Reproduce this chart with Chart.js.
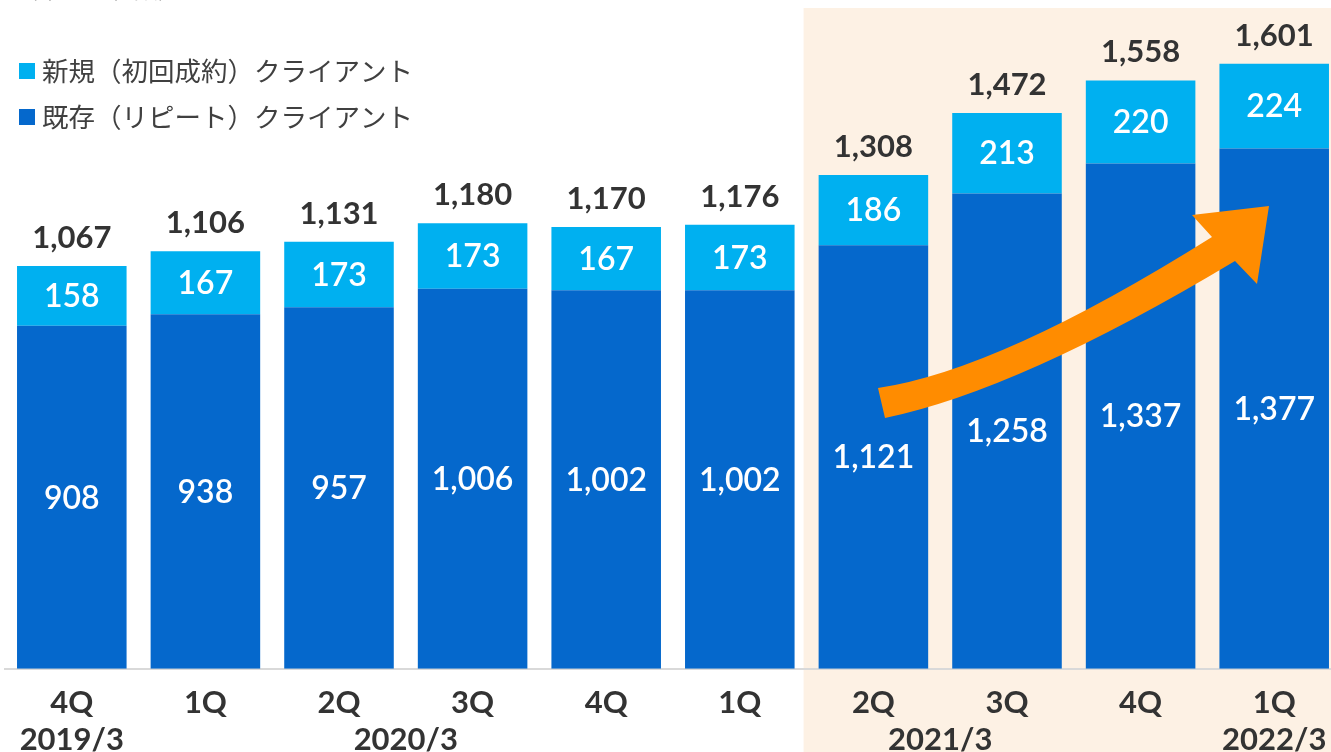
<!DOCTYPE html>
<html lang="ja">
<head>
<meta charset="utf-8">
<title>クライアント数推移</title>
<script src="https://cdn.jsdelivr.net/npm/chart.js@4.4.1/dist/chart.umd.min.js"></script>
<style>
  html, body { margin: 0; padding: 0; background: #fff; overflow: hidden; }
  #wrap { position: relative; width: 1342px; height: 752px; }
</style>
</head>
<body>
<div id="wrap"><canvas id="clientChart"></canvas></div>
<script>
// 四半期ラベルと決算期
const quarters = ['4Q', '1Q', '2Q', '3Q', '4Q', '1Q', '2Q', '3Q', '4Q', '1Q'];
const fiscalYears = ['2019/3', '2020/3', '2020/3', '2020/3', '2020/3', '2021/3', '2021/3', '2021/3', '2021/3', '2022/3'];

// クライアント数（社）
const repeatClients = [908, 938, 957, 1006, 1002, 1002, 1121, 1258, 1337, 1377];
const newClients = [158, 167, 173, 173, 167, 173, 186, 213, 220, 224];
const totalClients = [1067, 1106, 1131, 1180, 1170, 1176, 1308, 1472, 1558, 1601];

// 網掛けを始める四半期（2Q 2021/3 以降）
const highlightFrom = 6;

const COLOR_NEW = '#00B0F0';
const COLOR_REPEAT = '#0568CC';
const COLOR_TEXT = '#333333';
const NUM_FONT = 'Lato, "Noto Sans", sans-serif';
const JP_FONT = '"Noto Sans CJK JP", "Noto Sans", sans-serif';

// 背景・網掛け
const backdrop = {
    id: 'backdrop',
    beforeDraw(chart) {
        const { ctx, width, height } = chart;
        const x = chart.scales.x;
        ctx.save();
        ctx.fillStyle = '#ffffff';
        ctx.fillRect(0, 0, width, height);
        const left = (x.getPixelForValue(highlightFrom - 1) + x.getPixelForValue(highlightFrom)) / 2 - 3;
        ctx.fillStyle = '#FDF1E4';
        ctx.fillRect(left, 8, width - left, height - 8);
        ctx.restore();
    }
};

// 右肩上がりの矢印
const growthArrow = {
    id: 'growthArrow',
    afterDatasetsDraw(chart) {
        const ctx = chart.ctx;
        ctx.save();
        ctx.fillStyle = '#FF8C00';
        ctx.beginPath();
        ctx.moveTo(878, 388);
        ctx.quadraticCurveTo(1000, 370, 1212, 237);
        ctx.lineTo(1192, 215);
        ctx.lineTo(1269, 206);
        ctx.lineTo(1257, 284);
        ctx.lineTo(1235, 261);
        ctx.quadraticCurveTo(1020, 390, 885, 418);
        ctx.closePath();
        ctx.fill();
        ctx.restore();
    }
};

// 値ラベル、決算期ラベル、凡例
const annotations = {
    id: 'annotations',
    afterDraw(chart) {
        const ctx = chart.ctx;
        const x = chart.scales.x;
        ctx.save();
        ctx.textAlign = 'center';
        ctx.textBaseline = 'middle';

        // 各積み上げの中に内訳
        ctx.font = `600 32px ${NUM_FONT}`;
        ctx.fillStyle = '#ffffff';
        chart.data.datasets.forEach((ds, di) => {
            chart.getDatasetMeta(di).data.forEach((bar, i) => {
                const mid = (bar.y + bar.base) / 2;
                ctx.fillText(ds.data[i].toLocaleString('en-US'), bar.x, mid + 1);
            });
        });

        // 合計を積み上げの上に
        const topMeta = chart.getDatasetMeta(1);
        ctx.font = `bold 31px ${NUM_FONT}`;
        ctx.fillStyle = COLOR_TEXT;
        topMeta.data.forEach((bar, i) => {
            ctx.fillText(totalClients[i].toLocaleString('en-US'), bar.x, bar.y - 28);
        });

        // 決算期ラベル（同じ期の四半期の中央）
        ctx.font = `bold 31px ${NUM_FONT}`;
        const groups = [];
        fiscalYears.forEach((fy, i) => {
            const last = groups[groups.length - 1];
            if (last && last.label === fy) last.to = i;
            else groups.push({ label: fy, from: i, to: i });
        });
        groups.forEach(g => {
            const cx = (x.getPixelForValue(g.from) + x.getPixelForValue(g.to)) / 2;
            ctx.fillText(g.label, cx, 740);
        });

        // 凡例（新規を上に）
        ctx.textAlign = 'left';
        ctx.font = `26.5px ${JP_FONT}`;
        const legendRows = [chart.data.datasets[1], chart.data.datasets[0]];
        legendRows.forEach((ds, r) => {
            const cy = 71 + r * 46;
            ctx.fillStyle = ds.backgroundColor;
            ctx.fillRect(19, cy - 8, 16, 16);
            ctx.fillStyle = '#404040';
            ctx.fillText(ds.label, 42, cy);
        });

        // 単位
        ctx.fillStyle = '#8c8c8c';
        ctx.font = `24px ${JP_FONT}`;
        ctx.textBaseline = 'alphabetic';
        ctx.fillText('（単位：社数）', 14, -2);
        ctx.restore();
    }
};

new Chart(document.getElementById('clientChart'), {
    type: 'bar',
    data: {
        labels: quarters,
        datasets: [
            {
                label: '既存（リピート）クライアント',
                data: repeatClients,
                backgroundColor: COLOR_REPEAT,
                borderWidth: 0
            },
            {
                label: '新規（初回成約）クライアント',
                data: newClients,
                backgroundColor: COLOR_NEW,
                borderWidth: 0
            }
        ]
    },
    options: {
        responsive: true,
        maintainAspectRatio: false,
        animation: false,
        layout: { padding: { left: 5, right: 1, top: 7.5, bottom: 14 } },
        datasets: {
            bar: { categoryPercentage: 1, barPercentage: 0.82 }
        },
        plugins: {
            legend: { display: false },
            tooltip: { enabled: false }
        },
        scales: {
            x: {
                stacked: true,
                grid: { display: false, drawTicks: false },
                border: { display: true, color: '#D9D9D9', width: 2 },
                ticks: {
                    color: COLOR_TEXT,
                    padding: 16,
                    font: { family: NUM_FONT, size: 31, weight: 'bold' }
                }
            },
            y: {
                stacked: true,
                display: false,
                min: 0,
                max: 1750
            }
        }
    },
    plugins: [backdrop, growthArrow, annotations]
});
</script>
</body>
</html>
